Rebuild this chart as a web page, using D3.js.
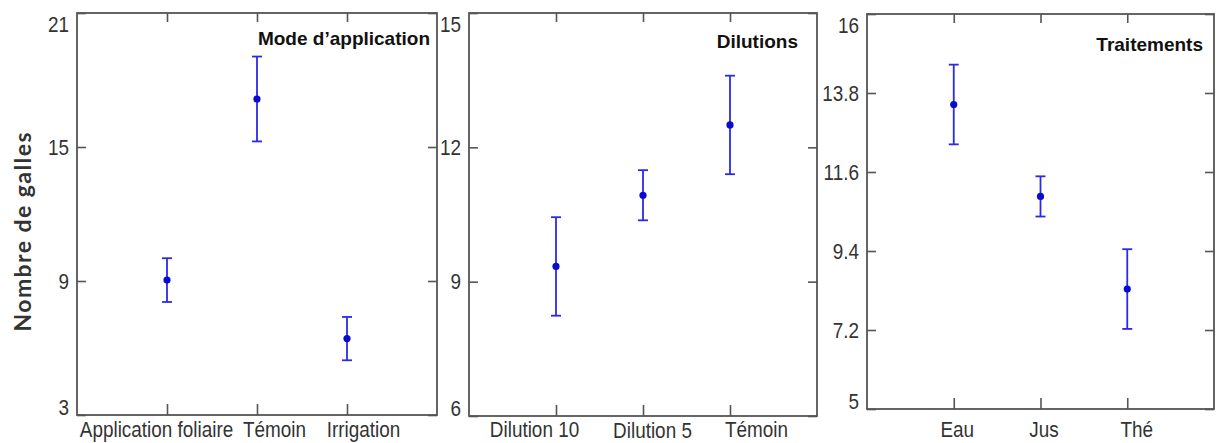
<!DOCTYPE html>
<html>
<head>
<meta charset="utf-8">
<script src="https://cdn.jsdelivr.net/npm/d3@7/dist/d3.min.js"></script>
<style>
  html, body { margin: 0; padding: 0; background: #ffffff; }
  svg { display: block; }
  .tick text { font-family: "Liberation Sans", Arial, sans-serif; font-size: 22px; fill: #333; }
  .tick line { stroke: #555; stroke-width: 1.6; }
  .frame { fill: none; stroke: #555; stroke-width: 1.8; }
  .title { font-family: "Liberation Sans", Arial, sans-serif; font-weight: bold; font-size: 19px; fill: #111; }
  .ylab { font-family: Lato, "Open Sans", sans-serif; font-weight: bold; font-size: 23px; fill: #333; }
</style>
</head>
<body>
<svg id="chart" width="1216" height="443"></svg>
<script>
// Mode d'application
const modeCategories = ["Application foliaire", "Témoin", "Irrigation"];
const modeMeans = [9.04, 17.15, 6.42];
const modeErrors = [0.98, 1.9, 0.97];
const modeTicks = [3, 9, 15, 21];

// Dilutions
const dilutionCategories = ["Dilution 10", "Dilution 5", "Témoin"];
const dilutionMeans = [9.34, 10.93, 12.5];
const dilutionErrors = [1.1, 0.56, 1.1];
const dilutionTicks = [6, 9, 12, 15];

// Traitements
const treatmentCategories = ["Eau", "Jus", "Thé"];
const treatmentMeans = [13.48, 10.92, 8.34];
const treatmentErrors = [1.11, 0.56, 1.11];
const treatmentTicks = [5, 7.2, 9.4, 11.6, 13.8, 16];

const panels = [
  { title: "Mode d’application", cats: modeCategories, means: modeMeans, errs: modeErrors, ticks: modeTicks,
    box: { x0: 77, x1: 437, y0: 13, y1: 415 }, titlePos: { dx: 7, y: 45 }, labelNudge: [-11, 17, 16], labelDrop: [0, 0, 0] },
  { title: "Dilutions", cats: dilutionCategories, means: dilutionMeans, errs: dilutionErrors, ticks: dilutionTicks,
    box: { x0: 469, x1: 817, y0: 13, y1: 416 }, titlePos: { dx: 19, y: 48 }, labelNudge: [-22, 9, 26], labelDrop: [0, 1, 0] },
  { title: "Traitements", cats: treatmentCategories, means: treatmentMeans, errs: treatmentErrors, ticks: treatmentTicks,
    box: { x0: 867, x1: 1214, y0: 14, y1: 409 }, titlePos: { dx: 11, y: 51 }, labelNudge: [3, 3, 9], labelDrop: [0, 0, 0] }
];

const svg = d3.select("#chart");
const fmt = d3.format("~g");
const barColor = "#2b2be6";
const dotColor = "#0a0ad0";
const squeeze = 0.86;           // condensed look for axis labels
const baseline = 437;           // category label baseline

panels.forEach(p => {
  const b = p.box;
  const W = b.x1 - b.x0, H = b.y1 - b.y0;
  const g = svg.append("g").attr("transform", `translate(${b.x0},${b.y0})`);

  const x = d3.scalePoint().domain(p.cats).range([0, W]).padding(1);
  const y = d3.scaleLinear().domain(d3.extent(p.ticks)).range([H, 0]);

  // left axis with inward ticks
  const left = g.append("g").call(d3.axisLeft(y).tickValues(p.ticks).tickFormat(fmt)
      .tickSizeInner(-9).tickSizeOuter(0).tickPadding(8));
  left.select(".domain").remove();
  const n = p.ticks.length;
  left.selectAll(".tick text")
    .attr("x", -8 / squeeze)
    .attr("transform", `scale(${squeeze},1)`)
    .attr("y", (d, i) => i === 0 ? -8 : (i === n - 1 ? 11 : 0));

  // right axis: inward ticks only
  const right = g.append("g").attr("transform", `translate(${W},0)`)
    .call(d3.axisRight(y).tickValues(p.ticks).tickFormat("").tickSizeInner(-9).tickSizeOuter(0));
  right.select(".domain").remove();

  // top axis: inward ticks only
  const top = g.append("g").call(d3.axisTop(x).tickFormat("").tickSizeInner(-9).tickSizeOuter(0));
  top.select(".domain").remove();

  // bottom axis with category labels
  const bottom = g.append("g").attr("transform", `translate(0,${H})`)
    .call(d3.axisBottom(x).tickSizeInner(-11).tickSizeOuter(0));
  bottom.select(".domain").remove();
  bottom.selectAll(".tick text")
    .attr("transform", `scale(${squeeze},1)`)
    .attr("x", (d, i) => p.labelNudge[i] / squeeze)
    .attr("dy", null)
    .attr("y", (d, i) => baseline - b.y1 + p.labelDrop[i]);

  // frame
  g.append("rect").attr("class", "frame").attr("x", 0).attr("y", 0).attr("width", W).attr("height", H);

  // title
  g.append("text").attr("class", "title").attr("text-anchor", "end")
    .attr("x", W - p.titlePos.dx).attr("y", p.titlePos.y - b.y0).text(p.title);

  // error bars
  const rows = p.cats.map((c, i) => ({ c, m: p.means[i], e: p.errs[i] }));
  const eb = g.append("g").selectAll("g").data(rows).join("g");
  eb.append("line").attr("x1", d => x(d.c)).attr("x2", d => x(d.c))
    .attr("y1", d => y(d.m - d.e)).attr("y2", d => y(d.m + d.e))
    .attr("stroke", barColor).attr("stroke-width", 1.8);
  [-1, 1].forEach(s => {
    eb.append("line").attr("x1", d => x(d.c) - 5).attr("x2", d => x(d.c) + 5)
      .attr("y1", d => y(d.m + s * d.e)).attr("y2", d => y(d.m + s * d.e))
      .attr("stroke", barColor).attr("stroke-width", 1.8);
  });
  eb.append("circle").attr("cx", d => x(d.c)).attr("cy", d => y(d.m)).attr("r", 3.6).attr("fill", dotColor);
});

// shared y-axis title
svg.append("text").attr("class", "ylab")
  .attr("transform", "translate(31,232) rotate(-90)")
  .attr("text-anchor", "middle")
  .attr("textLength", 199).attr("lengthAdjust", "spacing")
  .text("Nombre de galles");
</script>
</body>
</html>
